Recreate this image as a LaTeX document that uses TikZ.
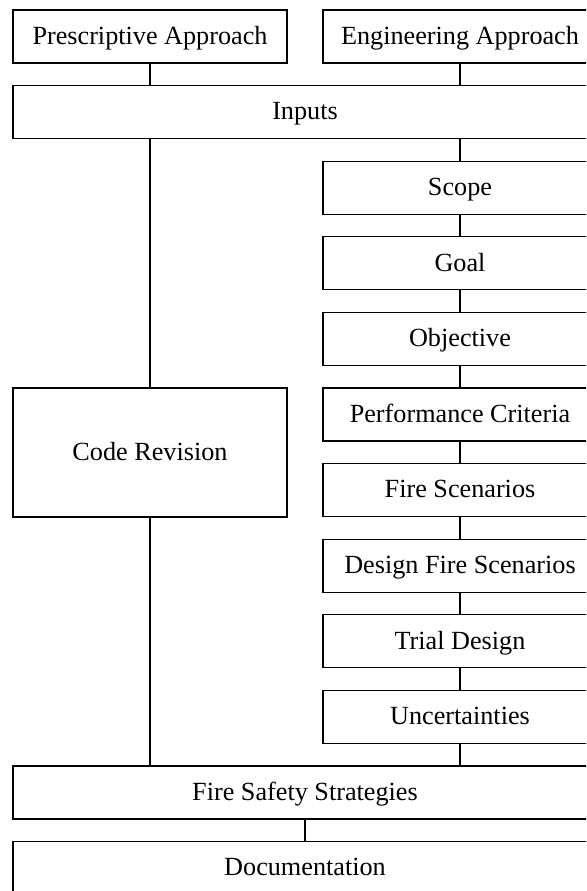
\documentclass[tikz,border=0pt]{standalone}
\usepackage{fontspec}
\setmainfont{Liberation Serif}

\begin{document}
\begin{tikzpicture}[x=0.5pt, y=-0.5pt,
    stagebox/.style={draw, rectangle, line width=0.55pt, inner sep=0pt,
        minimum height=26.5pt, text height=1em, text depth=0.22em,
        font=\fontsize{13.1}{15}\selectfont},
    halfbox/.style={stagebox, minimum width=137pt},
    widebox/.style={stagebox, minimum width=292pt},
    link/.style={line width=0.55pt}]
    \clip (0,0) rectangle (586,891);

    % Approaches
    \node[halfbox] (pres) at (150,36.5) {Prescriptive Approach};
    \node[halfbox] (eng) at (460,36.5) {Engineering Approach};
    \node[widebox] (inputs) at (305,112) {Inputs};

    % Engineering steps
    \node[halfbox] (scope) at (460,187.7) {Scope};
    \node[halfbox] (goal) at (460,263.3) {Goal};
    \node[halfbox] (objective) at (460,338.9) {Objective};
    \node[halfbox] (criteria) at (460,414.5) {Performance Criteria};
    \node[halfbox] (scenarios) at (460,490.1) {Fire Scenarios};
    \node[halfbox] (design) at (460,565.7) {Design Fire Scenarios};
    \node[halfbox] (trial) at (460,641.3) {Trial Design};
    \node[halfbox] (uncert) at (460,716.9) {Uncertainties};

    % Prescriptive side
    \node[halfbox, minimum height=64.5pt] (revision) at (150,452.5) {Code Revision};

    % Outputs
    \node[widebox] (strategies) at (305,792.5) {Fire Safety Strategies};
    \node[widebox] (docs) at (305,868.1) {Documentation};

    % Lines
    \draw[link] (pres.south) -- (pres.south |- inputs.north);
    \draw[link] (eng.south) -- (eng.south |- inputs.north);
    \draw[link] (inputs.south -| revision.north) -- (revision.north);
    \draw[link] (inputs.south -| scope.north) -- (scope.north);
    \draw[link] (scope.south) -- (goal.north);
    \draw[link] (goal.south) -- (objective.north);
    \draw[link] (objective.south) -- (criteria.north);
    \draw[link] (criteria.south) -- (scenarios.north);
    \draw[link] (scenarios.south) -- (design.north);
    \draw[link] (design.south) -- (trial.north);
    \draw[link] (trial.south) -- (uncert.north);
    \draw[link] (uncert.south) -- (uncert.south |- strategies.north);
    \draw[link] (revision.south) -- (revision.south |- strategies.north);
    \draw[link] (strategies.south) -- (docs.north);
\end{tikzpicture}
\end{document}
